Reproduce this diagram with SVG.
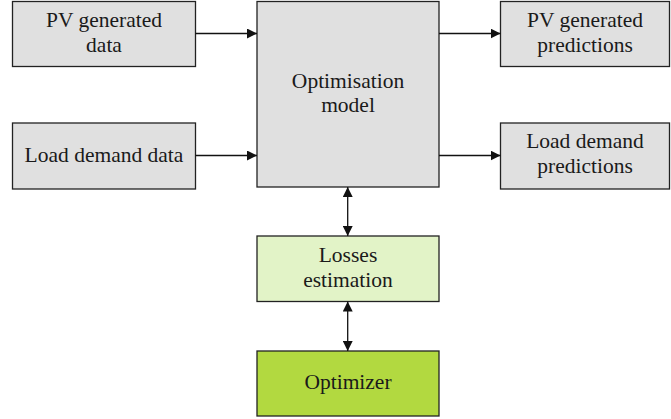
<svg xmlns="http://www.w3.org/2000/svg" width="671" height="419" viewBox="0 0 671 419">
<style>
.box{stroke:#222;stroke-width:1.3}
.gray{fill:#e0e0e0}
.lg{fill:#e2f3c7}
.dg{fill:#b2d940}
.c{stroke:#111;stroke-width:1.3;fill:none}
</style>
<defs>
<marker id="ah" viewBox="0 0 10 10" refX="10" refY="5" markerWidth="10" markerHeight="10" markerUnits="userSpaceOnUse" orient="auto-start-reverse">
<path d="M0,0 L10,5 L0,10 Z" fill="#111"/>
</marker>
</defs>
<g font-family="'Liberation Serif', 'Times New Roman', serif" font-size="21.5" fill="#1a1a1a" text-anchor="middle">
<g id="pv-data"><rect class="box gray" x="12.5" y="1.5" width="183" height="65"/><text x="104" y="27">PV generated</text><text x="104" y="52">data</text></g>
<g id="load-data"><rect class="box gray" x="12.5" y="123" width="183" height="66"/><text x="104" y="161.5">Load demand data</text></g>
<g id="opt-model"><rect class="box gray" x="257" y="1.5" width="182" height="185.5"/><text x="348" y="87.5">Optimisation</text><text x="348" y="112">model</text></g>
<g id="pv-pred"><rect class="box gray" x="500.5" y="1.5" width="169" height="65"/><text x="585" y="27">PV generated</text><text x="585" y="52">predictions</text></g>
<g id="load-pred"><rect class="box gray" x="500.5" y="123" width="169" height="66"/><text x="585" y="147.5">Load demand</text><text x="585" y="172.5">predictions</text></g>
<g id="losses"><rect class="box lg" x="257" y="236" width="182" height="65.5"/><text x="348" y="261.5">Losses</text><text x="348" y="286.5">estimation</text></g>
<g id="optimizer"><rect class="box dg" x="257" y="351" width="182" height="65"/><text x="348" y="389">Optimizer</text></g>
</g>
<g id="connectors">
<line class="c" x1="195.5" y1="33.5" x2="257" y2="33.5" marker-end="url(#ah)"/>
<line class="c" x1="195.5" y1="155.5" x2="257" y2="155.5" marker-end="url(#ah)"/>
<line class="c" x1="439" y1="33.5" x2="500.5" y2="33.5" marker-end="url(#ah)"/>
<line class="c" x1="439" y1="155.5" x2="500.5" y2="155.5" marker-end="url(#ah)"/>
<line class="c" x1="347.7" y1="187" x2="347.7" y2="236" marker-start="url(#ah)" marker-end="url(#ah)"/>
<line class="c" x1="347.7" y1="301.5" x2="347.7" y2="351" marker-start="url(#ah)" marker-end="url(#ah)"/>
</g>
</svg>
